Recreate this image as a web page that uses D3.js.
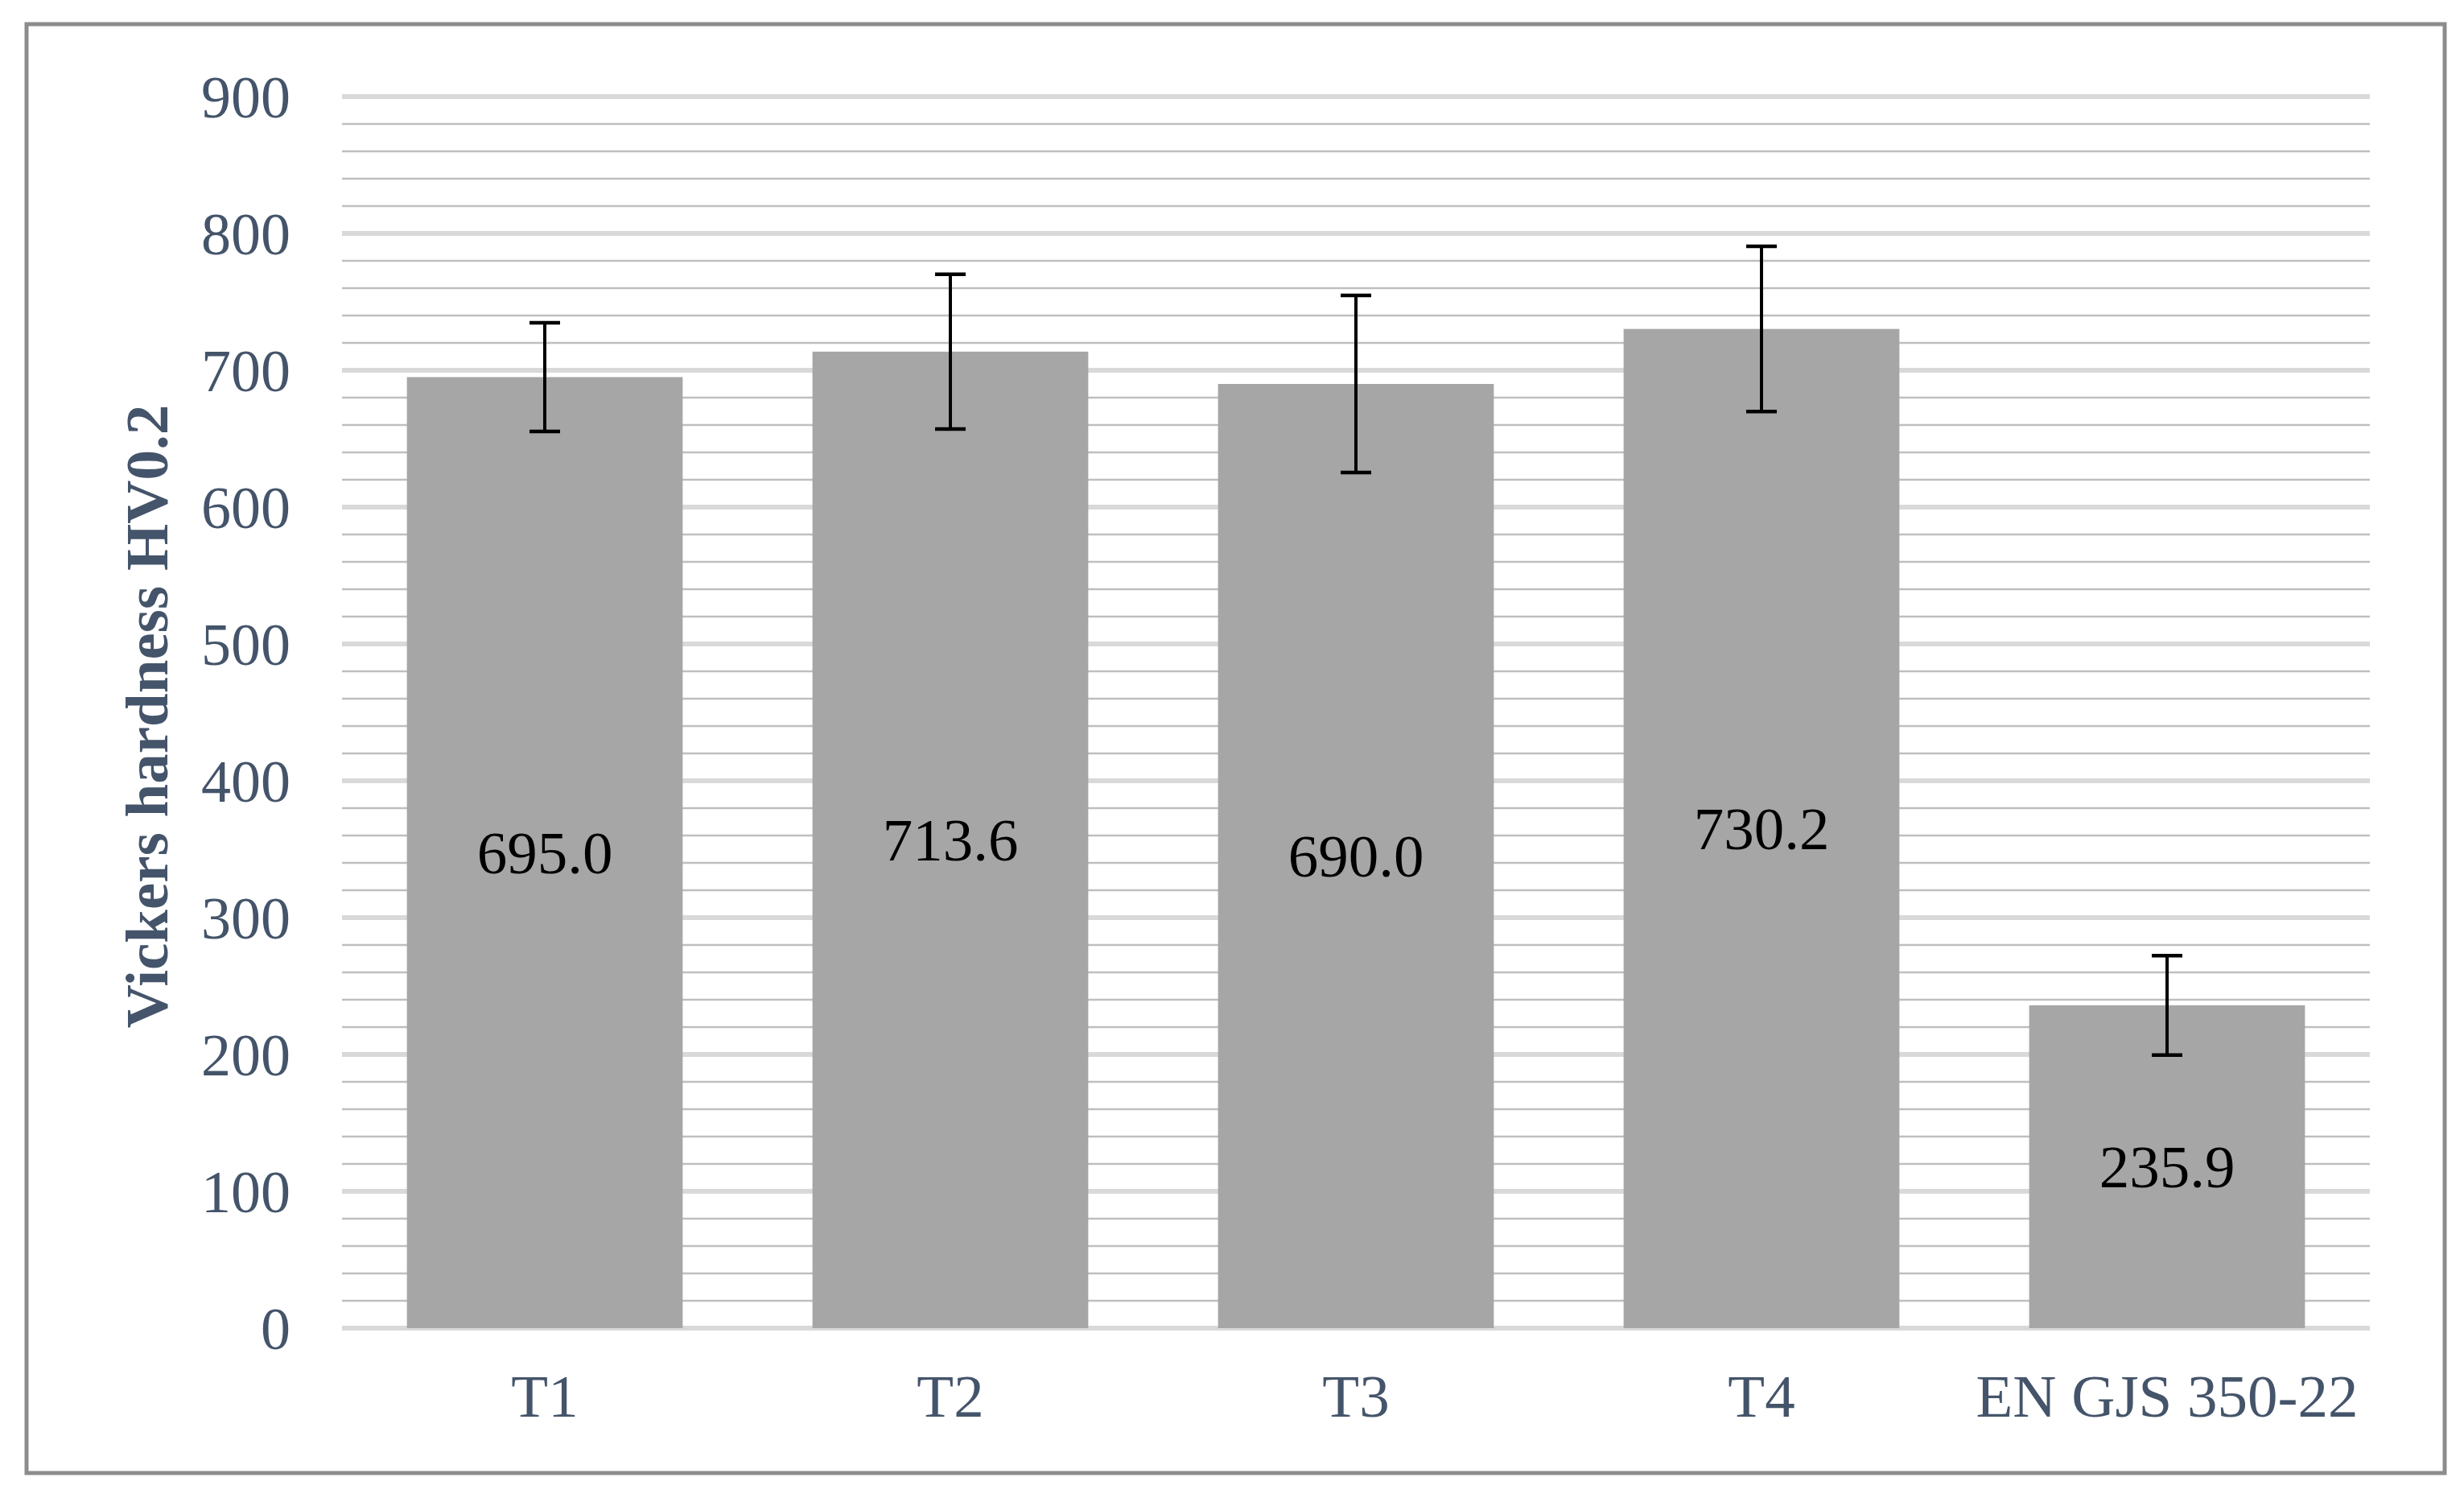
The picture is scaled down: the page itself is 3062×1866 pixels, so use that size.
<!DOCTYPE html>
<html>
<head>
<meta charset="utf-8">
<script src="https://cdn.jsdelivr.net/npm/d3@7"></script>
<style>
  body { margin: 0; background: #fff; }
  text { font-family: "Liberation Serif", "Times New Roman", serif; }
</style>
</head>
<body>
<svg id="chart"></svg>
<script>
// data
var categories = ["T1", "T2", "T3", "T4", "EN GJS 350-22"];
var hardness = [695.0, 713.6, 690.0, 730.2, 235.9];
var errors = [39.7, 56.6, 64.7, 60.4, 36.3];
var yTicks = [0, 100, 200, 300, 400, 500, 600, 700, 800, 900];
var yMinor = d3.range(0, 901, 20);

var width = 3062;
var height = 1866;
var textColor = "#44546a";

var svg = d3.select("#chart")
  .attr("width", width)
  .attr("height", height);

svg.append("rect")
  .attr("width", width)
  .attr("height", height)
  .attr("fill", "#fff");

// outer frame
svg.append("rect")
  .attr("x", 33)
  .attr("y", 30)
  .attr("width", 3005)
  .attr("height", 1800)
  .attr("fill", "none")
  .attr("stroke", "#8c8c8c")
  .attr("stroke-width", 5);

var x = d3.scaleBand()
  .domain(categories)
  .range([425, 2945])
  .paddingInner(0.32)
  .paddingOuter(0.16);

var y = d3.scaleLinear()
  .domain([0, 900])
  .range([1650, 120]);

// minor grid
svg.append("g").selectAll("line")
  .data(yMinor.filter(function(d) { return d % 100 !== 0; }))
  .enter()
  .append("line")
  .attr("x1", 425)
  .attr("x2", 2945)
  .attr("y1", function(d) { return y(d); })
  .attr("y2", function(d) { return y(d); })
  .attr("stroke", "#bfbfbf")
  .attr("stroke-width", 2.5);

// major grid
svg.append("g").selectAll("line")
  .data(yTicks)
  .enter()
  .append("line")
  .attr("x1", 425)
  .attr("x2", 2945)
  .attr("y1", function(d) { return y(d); })
  .attr("y2", function(d) { return y(d); })
  .attr("stroke", "#d9d9d9")
  .attr("stroke-width", 6);

// y axis labels
var yAxis = d3.axisLeft(y).tickValues(yTicks).tickSize(0).tickPadding(0);
var gy = svg.append("g")
  .attr("transform", "translate(361,0)")
  .call(yAxis);
gy.select(".domain").remove();
gy.selectAll("text")
  .attr("fill", textColor)
  .attr("font-size", 74)
  .attr("font-family", "Liberation Serif")
  .attr("dy", "0.34em");

// x axis labels
var xAxis = d3.axisBottom(x).tickSize(0).tickPadding(0);
var gx = svg.append("g")
  .attr("transform", "translate(0,1650)")
  .call(xAxis);
gx.select(".domain").remove();
gx.selectAll("text")
  .attr("fill", textColor)
  .attr("font-size", 75)
  .attr("font-family", "Liberation Serif")
  .attr("y", 110)
  .attr("dy", 0);

// bars
svg.append("g").selectAll("rect")
  .data(hardness)
  .enter()
  .append("rect")
  .attr("x", function(d, i) { return x(categories[i]); })
  .attr("y", function(d) { return y(d); })
  .attr("width", x.bandwidth())
  .attr("height", function(d) { return y(0) - y(d); })
  .attr("fill", "#a6a6a6");

// error bars
var eb = svg.append("g").selectAll("g")
  .data(hardness)
  .enter()
  .append("g")
  .attr("stroke", "#000");

eb.append("line")
  .attr("x1", function(d, i) { return x(categories[i]) + x.bandwidth() / 2; })
  .attr("x2", function(d, i) { return x(categories[i]) + x.bandwidth() / 2; })
  .attr("y1", function(d, i) { return y(d + errors[i]); })
  .attr("y2", function(d, i) { return y(d - errors[i]); })
  .attr("stroke-width", 4);

[1, -1].forEach(function(sign)
{
  eb.append("line")
    .attr("x1", function(d, i) { return x(categories[i]) + x.bandwidth() / 2 - 19; })
    .attr("x2", function(d, i) { return x(categories[i]) + x.bandwidth() / 2 + 19; })
    .attr("y1", function(d, i) { return y(d + sign * errors[i]); })
    .attr("y2", function(d, i) { return y(d + sign * errors[i]); })
    .attr("stroke-width", 4.5);
});

// value labels in the middle of the bars
svg.append("g").selectAll("text")
  .data(hardness)
  .enter()
  .append("text")
  .attr("x", function(d, i) { return x(categories[i]) + x.bandwidth() / 2; })
  .attr("y", function(d) { return (y(d) + y(0)) / 2; })
  .attr("dy", "0.34em")
  .attr("text-anchor", "middle")
  .attr("font-size", 75)
  .attr("fill", "#000")
  .text(function(d) { return d.toFixed(1); });

// y title
svg.append("text")
  .attr("transform", "translate(208,890) rotate(-90)")
  .attr("text-anchor", "middle")
  .attr("font-size", 75)
  .attr("font-weight", "bold")
  .attr("fill", textColor)
  .text("Vickers hardness HV0.2");
</script>
</body>
</html>
